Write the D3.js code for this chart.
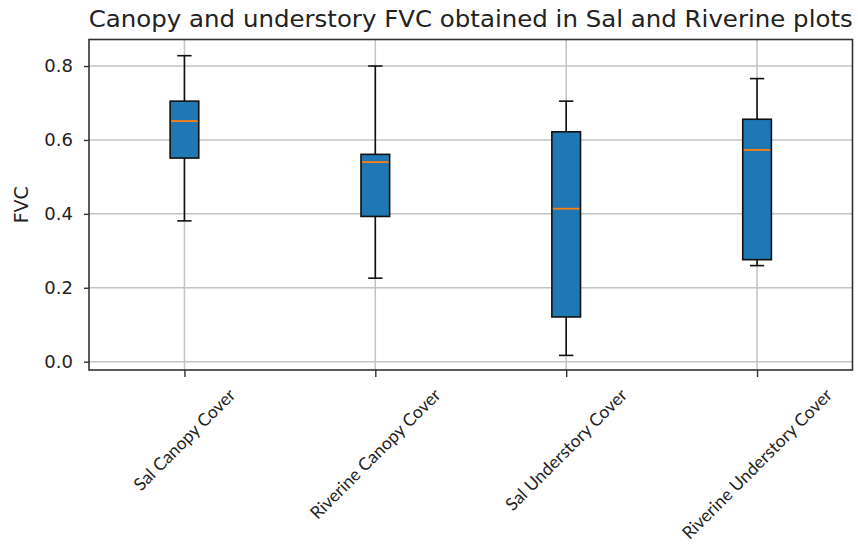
<!DOCTYPE html>
<html>
  <head>
    <title>Canopy and understory FVC</title>
    <script src="https://d3js.org/d3.v7.min.js"></script>
    <style>
      body { margin: 0; background: #fff; }
      text { fill: #222; }
    </style>
  </head>
  <body>
    <div id="chart"></div>
    <script>
      // Box plot stats
      var categories = ["Sal Canopy Cover", "Riverine Canopy Cover", "Sal Understory Cover", "Riverine Understory Cover"];
      var whiskerLow  = [0.381, 0.226, 0.017, 0.260];
      var q1          = [0.551, 0.393, 0.121, 0.276];
      var median      = [0.651, 0.540, 0.414, 0.573];
      var q3          = [0.705, 0.561, 0.622, 0.656];
      var whiskerHigh = [0.828, 0.800, 0.705, 0.766];
      var yTicks = [0, 0.2, 0.4, 0.6, 0.8];

      var data = categories.map(function(c, i) {
        return { name: c, lo: whiskerLow[i], q1: q1[i], med: median[i], q3: q3[i], hi: whiskerHigh[i] };
      });

      var W = 858, H = 551;
      var plotL = 89, plotR = 852.5, plotT = 39.5, plotB = 370;

      var svg = d3.select("#chart").append("svg")
        .attr("width", W)
        .attr("height", H);

      var x = d3.scalePoint()
        .domain(categories)
        .range([plotL, plotR])
        .padding(0.5);

      var y = d3.scaleLinear()
        .domain([-0.0225, 0.8718])
        .range([plotB, plotT]);

      var boxW = x.step() * 0.15;

      // grid
      svg.append("g").selectAll("line")
        .data(yTicks).enter().append("line")
        .attr("x1", plotL).attr("x2", plotR)
        .attr("y1", function(d) { return y(d); })
        .attr("y2", function(d) { return y(d); })
        .attr("stroke", "#c4c4c4").attr("stroke-width", 1.5);
      svg.append("g").selectAll("line")
        .data(categories).enter().append("line")
        .attr("x1", function(d) { return x(d); })
        .attr("x2", function(d) { return x(d); })
        .attr("y1", plotT).attr("y2", plotB)
        .attr("stroke", "#c4c4c4").attr("stroke-width", 1.5);

      // boxes
      var g = svg.append("g").selectAll("g")
        .data(data).enter().append("g");

      g.append("line")
        .attr("x1", function(d) { return x(d.name); })
        .attr("x2", function(d) { return x(d.name); })
        .attr("y1", function(d) { return y(d.lo); })
        .attr("y2", function(d) { return y(d.q1); })
        .attr("stroke", "#111").attr("stroke-width", 1.6);
      g.append("line")
        .attr("x1", function(d) { return x(d.name); })
        .attr("x2", function(d) { return x(d.name); })
        .attr("y1", function(d) { return y(d.q3); })
        .attr("y2", function(d) { return y(d.hi); })
        .attr("stroke", "#111").attr("stroke-width", 1.6);
      ["lo", "hi"].forEach(function(k) {
        g.append("line")
          .attr("x1", function(d) { return x(d.name) - boxW / 4; })
          .attr("x2", function(d) { return x(d.name) + boxW / 4; })
          .attr("y1", function(d) { return y(d[k]); })
          .attr("y2", function(d) { return y(d[k]); })
          .attr("stroke", "#111").attr("stroke-width", 1.6);
      });
      g.append("rect")
        .attr("x", function(d) { return x(d.name) - boxW / 2; })
        .attr("width", boxW)
        .attr("y", function(d) { return y(d.q3); })
        .attr("height", function(d) { return y(d.q1) - y(d.q3); })
        .attr("fill", "#1f77b4")
        .attr("stroke", "#111").attr("stroke-width", 1.6);
      g.append("line")
        .attr("x1", function(d) { return x(d.name) - boxW / 2 + 1; })
        .attr("x2", function(d) { return x(d.name) + boxW / 2 - 1; })
        .attr("y1", function(d) { return y(d.med); })
        .attr("y2", function(d) { return y(d.med); })
        .attr("stroke", "#ff7f0e").attr("stroke-width", 1.8);

      // frame
      svg.append("rect")
        .attr("x", plotL).attr("y", plotT)
        .attr("width", plotR - plotL).attr("height", plotB - plotT)
        .attr("fill", "none").attr("stroke", "#333").attr("stroke-width", 1.6);

      // y axis
      var yAxis = svg.append("g")
        .attr("transform", "translate(" + plotL + ",0)")
        .call(d3.axisLeft(y).tickValues(yTicks).tickFormat(d3.format(".1f")).tickSize(5).tickPadding(11));
      yAxis.select(".domain").remove();
      yAxis.selectAll("line").attr("stroke", "#333").attr("stroke-width", 1.4);
      yAxis.selectAll("text")
        .style("font-family", "DejaVu Sans")
        .style("font-size", "18px")
        .attr("fill", "#222");

      // x ticks
      var xAxis = svg.append("g")
        .attr("transform", "translate(0," + plotB + ")")
        .call(d3.axisBottom(x).tickSize(7).tickFormat(""));
      xAxis.select(".domain").remove();
      xAxis.selectAll("line").attr("stroke", "#333").attr("stroke-width", 1.4);

      // rotated x labels, centred on the tick
      var fs = 17.5;
      svg.append("g").selectAll("text")
        .data(categories).enter().append("text")
        .style("font-family", "Lato")
        .style("font-size", fs + "px")
        .attr("text-anchor", "middle")
        .attr("dy", "0.35em")
        .attr("fill", "#333")
        .text(function(d) { return d; })
        .each(function(d) {
          var L = this.getComputedTextLength();
          var half = (L + fs * 0.8) * Math.SQRT1_2 / 2;
          var cx = x(d), cy = 387 + half;
          d3.select(this)
            .attr("x", cx).attr("y", cy)
            .attr("transform", "rotate(-45," + cx + "," + cy + ")");
        });

      // y label
      svg.append("text")
        .attr("transform", "translate(28," + ((plotT + plotB) / 2) + ") rotate(-90)")
        .attr("text-anchor", "middle")
        .style("font-family", "DejaVu Sans")
        .style("font-size", "19px")
        .text("FVC");

      // title
      svg.append("text")
        .attr("x", (plotL + plotR) / 2)
        .attr("y", 26.7)
        .attr("text-anchor", "middle")
        .attr("textLength", 764)
        .attr("lengthAdjust", "spacingAndGlyphs")
        .style("font-family", "DejaVu Sans")
        .style("font-size", "22.5px")
        .text("Canopy and understory FVC obtained in Sal and Riverine plots");
    </script>
  </body>
</html>
